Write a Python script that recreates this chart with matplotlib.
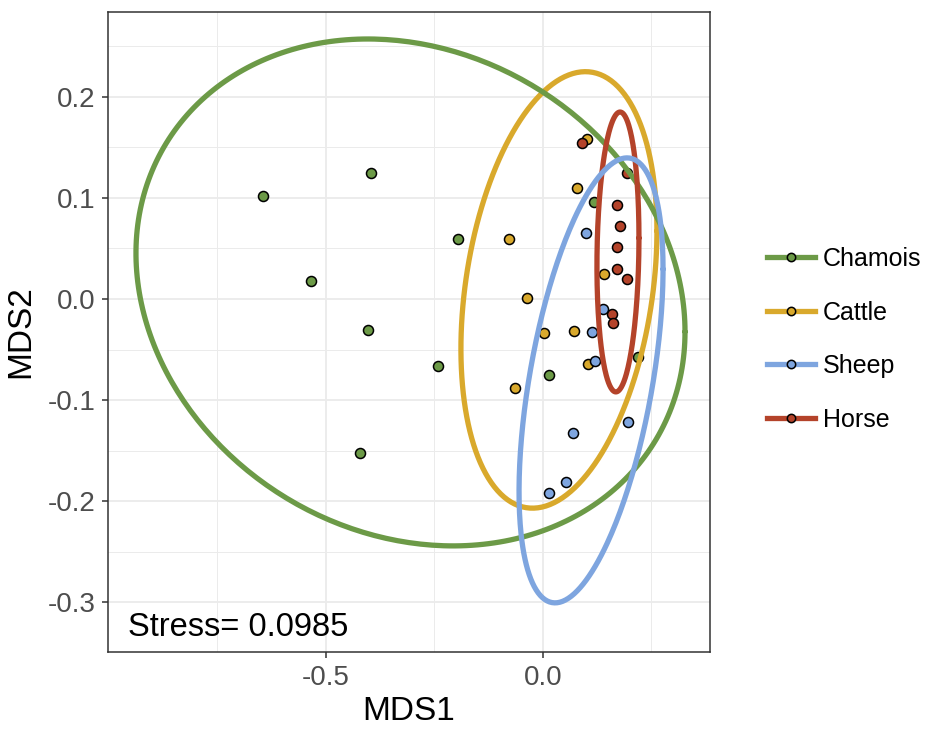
import matplotlib.pyplot as plt
import numpy as np
from matplotlib.lines import Line2D
from matplotlib.ticker import FixedLocator

plt.rcParams['font.family'] = ['Liberation Sans', 'DejaVu Sans']

# NMDS scores per host species
chamois_x = [-0.645, -0.396, -0.535, -0.196, -0.403, -0.242, -0.422, 0.014, 0.118, 0.219]
chamois_y = [0.102, 0.124, 0.018, 0.059, -0.031, -0.066, -0.152, -0.075, 0.096, -0.057]

cattle_x = [0.101, 0.078, -0.078, 0.140, -0.037, 0.002, 0.071, 0.104, -0.065]
cattle_y = [0.158, 0.110, 0.059, 0.025, 0.001, -0.034, -0.032, -0.064, -0.088]

sheep_x = [0.099, 0.138, 0.113, 0.120, 0.196, 0.069, 0.053, 0.014]
sheep_y = [0.065, -0.010, -0.033, -0.061, -0.122, -0.133, -0.181, -0.192]

horse_x = [0.090, 0.194, 0.171, 0.177, 0.171, 0.170, 0.194, 0.159, 0.161]
horse_y = [0.154, 0.124, 0.093, 0.072, 0.051, 0.030, 0.020, -0.015, -0.024]

# confidence ellipses: centre, half extents along x / y, correlation
ell_cx = {'Chamois': -0.305, 'Cattle': 0.037, 'Sheep': 0.111, 'Horse': 0.173}
ell_cy = {'Chamois': 0.0064, 'Cattle': 0.0089, 'Sheep': -0.0805, 'Horse': 0.0464}
ell_sx = {'Chamois': 0.6325, 'Cattle': 0.2258, 'Sheep': 0.1659, 'Horse': 0.0484}
ell_sy = {'Chamois': 0.2505, 'Cattle': 0.2157, 'Sheep': 0.2199, 'Horse': 0.1383}
ell_r = {'Chamois': -0.155, 'Cattle': 0.27, 'Sheep': 0.50, 'Horse': 0.10}

stress = 0.0985

colors = {'Chamois': '#6c9a47', 'Cattle': '#d9a92c', 'Sheep': '#7ea5df', 'Horse': '#b4432a'}
pts = {'Chamois': (chamois_x, chamois_y), 'Cattle': (cattle_x, cattle_y),
       'Sheep': (sheep_x, sheep_y), 'Horse': (horse_x, horse_y)}
draw_order = ['Cattle', 'Chamois', 'Horse', 'Sheep']
legend_order = ['Chamois', 'Cattle', 'Sheep', 'Horse']

fig = plt.figure(figsize=(9.26, 7.30), dpi=100)
ax = fig.add_axes([0.1166, 0.1068, 0.6501, 0.8768])

for g in draw_order:
    x, y = pts[g]
    ax.scatter(x, y, s=52, c=colors[g], edgecolors='black', linewidths=1.1, zorder=3)

t = np.linspace(0, 2 * np.pi, 300)
for g in draw_order:
    r = ell_r[g]
    ex = ell_cx[g] + ell_sx[g] * np.cos(t)
    ey = ell_cy[g] + ell_sy[g] * (r * np.cos(t) + np.sqrt(1 - r ** 2) * np.sin(t))
    ax.plot(ex, ey, color=colors[g], lw=3.8, zorder=4, solid_capstyle='round')

ax.text(-0.957, -0.325, 'Stress= %.4f' % stress, fontsize=23.5, ha='left', va='center', zorder=5)

ax.set_xlim(-1.002, 0.385)
ax.set_ylim(-0.349, 0.2836)
ax.set_xticks([-0.5, 0.0])
ax.set_xticklabels(['-0.5', '0.0'])
ax.set_yticks([-0.3, -0.2, -0.1, 0.0, 0.1, 0.2])
ax.set_yticklabels(['-0.3', '-0.2', '-0.1', '0.0', '0.1', '0.2'])
ax.xaxis.set_minor_locator(FixedLocator([-0.75, -0.25, 0.25]))
ax.yaxis.set_minor_locator(FixedLocator([-0.25, -0.15, -0.05, 0.05, 0.15, 0.25]))
ax.grid(True, which='major', color='#ebebeb', lw=1.3, zorder=0)
ax.grid(True, which='minor', color='#ebebeb', lw=0.7, zorder=0)
ax.set_axisbelow(True)
ax.tick_params(which='major', length=4, width=1.1, color='#333333', labelsize=20,
               labelcolor='#4d4d4d', pad=5)
ax.tick_params(which='minor', length=0)
for s in ax.spines.values():
    s.set_color('#333333')
    s.set_linewidth(1.1)

ax.set_xlabel('MDS1', fontsize=24, labelpad=4)
ax.set_ylabel('MDS2', fontsize=24, labelpad=8)

handles = [Line2D([], [], color=colors[g], lw=3.8, marker='o', markersize=6,
                  markerfacecolor=colors[g], markeredgecolor='black', markeredgewidth=1.1)
           for g in legend_order]
fig.legend(handles, legend_order, loc='center left', bbox_to_anchor=(0.828, 0.535),
           frameon=False, fontsize=18, handlelength=1.95, handletextpad=0.3,
           labelspacing=1.18, borderpad=0, borderaxespad=0)

fig.savefig('out.png', dpi=100)
